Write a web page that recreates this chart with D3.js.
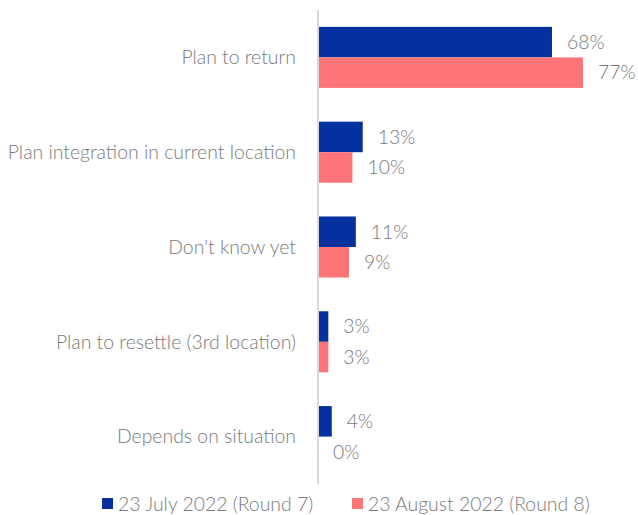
<!DOCTYPE html>
<html><head><meta charset="utf-8">
<script src="https://cdn.jsdelivr.net/npm/d3@7"></script>
<style>body{margin:0;background:#fff}svg{display:block}text{font-family:Lato,sans-serif;font-weight:300;fill:#7a7a7a}</style>
</head><body><svg id="c" width="638" height="515"></svg>
<script>
const categories = ["Plan to return","Plan integration in current location","Don't know yet","Plan to resettle (3rd location)","Depends on situation"];
const seriesNames = ["23 July 2022 (Round 7)","23 August 2022 (Round 8)"];
const round7 = [68,13,11,3,4];
const round8 = [77,10,9,3,0];
const colors = ["#0530a0","#ff7577"];
const fs = "19.4px";

const svg = d3.select("#c");
const x = d3.scaleLinear().domain([0,93]).range([318,638]);
const y = d3.scaleBand().domain(categories).range([10,484]).paddingInner(0.356).paddingOuter(0.178);
const sub = d3.scaleBand().domain([0,1]).range([0,y.bandwidth()]);
const series = [round7, round8];

series.forEach((vals,si)=>{
  svg.append("g").selectAll("rect").data(vals).join("rect")
    .attr("x", x(0)).attr("y",(d,i)=>y(categories[i])+sub(si))
    .attr("width", d=>x(d)-x(0)).attr("height", sub.bandwidth())
    .attr("fill", colors[si]);
  svg.append("g").selectAll("text").data(vals).join("text")
    .attr("x", d=>x(d)+15).attr("y",(d,i)=>y(categories[i])+sub(si)+sub.bandwidth()/2)
    .attr("dy","0.35em").style("font-size",fs)
    .text(d=>d+"%");
});

svg.append("line").attr("x1",x(0)).attr("x2",x(0)).attr("y1",10).attr("y2",484)
  .attr("stroke","#d9d9d9").attr("stroke-width",2);

svg.append("g").selectAll("text").data(categories).join("text")
  .attr("x",296).attr("y",d=>y(d)+y.bandwidth()/2).attr("dy","0.35em")
  .attr("text-anchor","end").style("font-size",fs).text(d=>d);

const lg = svg.append("g");
const lx = [102,352];
seriesNames.forEach((n,i)=>{
  lg.append("rect").attr("x",lx[i]).attr("y",498).attr("width",11).attr("height",11).attr("fill",colors[i]);
  lg.append("text").attr("x",lx[i]+16).attr("y",504).attr("dy","0.35em").style("font-size",fs).text(n);
});
</script></body></html>
